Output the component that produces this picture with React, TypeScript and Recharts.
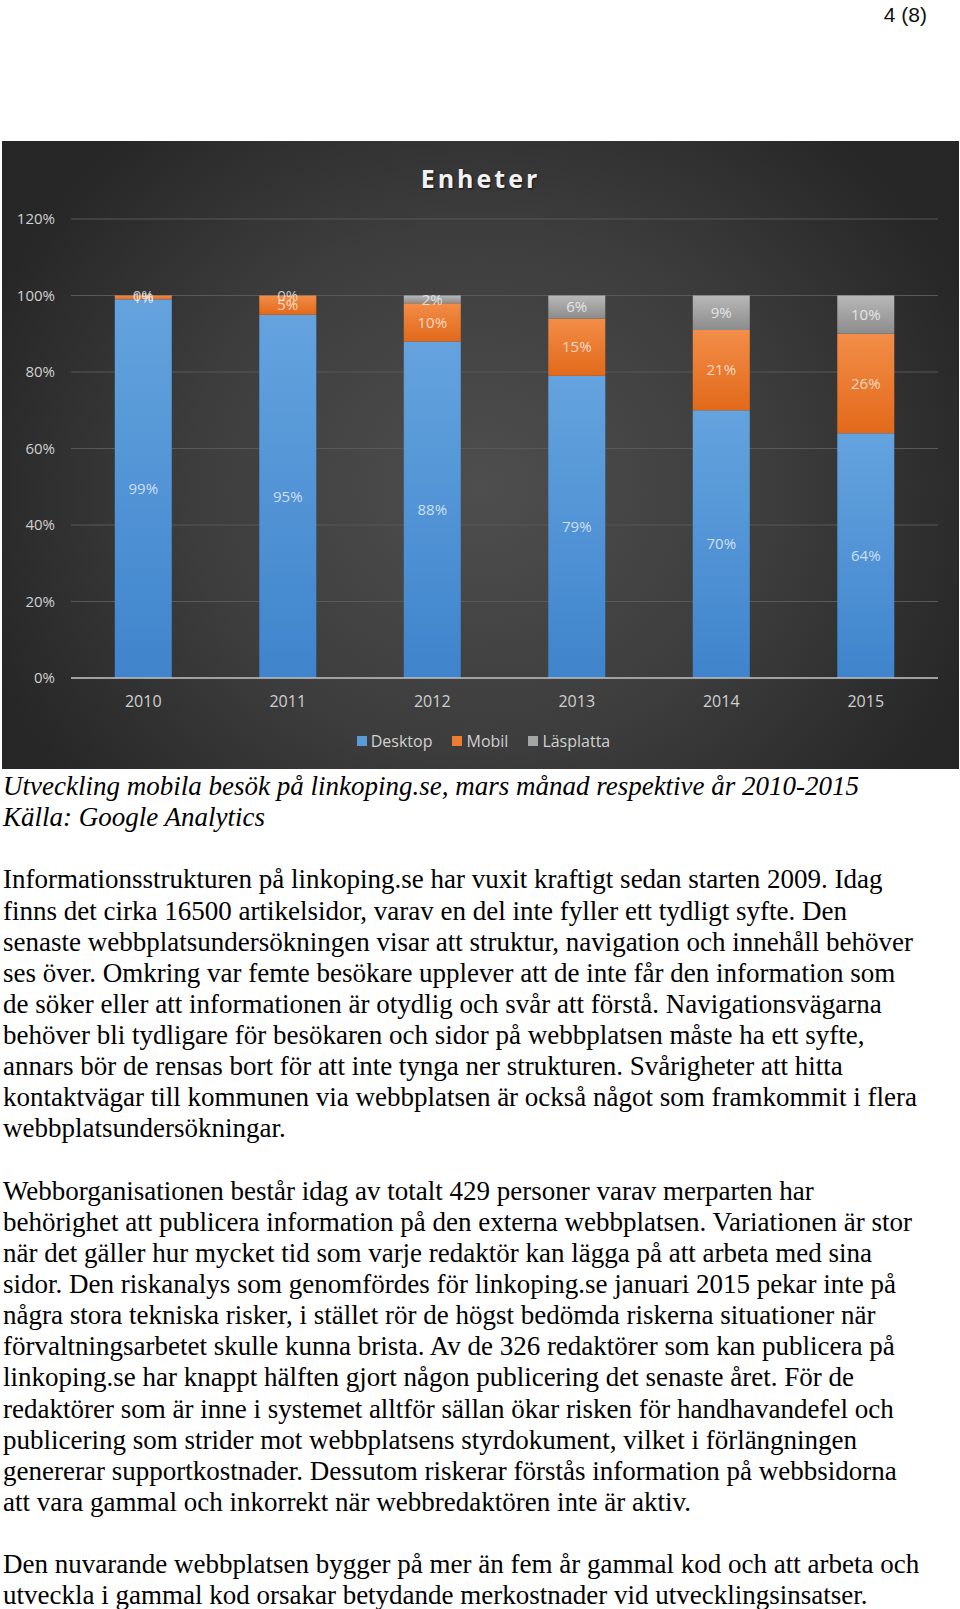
import { BarChart, Bar, XAxis, YAxis, CartesianGrid, Legend, LabelList } from 'recharts'

const years = ['2010', '2011', '2012', '2013', '2014', '2015']
const desktop = [99, 95, 88, 79, 70, 64]
const mobil = [1, 5, 10, 15, 21, 26]
const lasplatta = [0, 0, 2, 6, 9, 10]
const yTicks = [0, 20, 40, 60, 80, 100, 120]

const seriesInfo = [
  { key: 'desktop', name: 'Desktop', color: '#5b9bd5' },
  { key: 'mobil', name: 'Mobil', color: '#ed7d31' },
  { key: 'lasplatta', name: 'Läsplatta', color: '#a5a5a5' },
]

const captionLines = [
  'Utveckling mobila besök på linkoping.se, mars månad respektive år 2010-2015',
  'Källa: Google Analytics',
]

const bodyLines = [
  '',
  'Informationsstrukturen på linkoping.se har vuxit kraftigt sedan starten 2009. Idag',
  'finns det cirka 16500 artikelsidor, varav en del inte fyller ett tydligt syfte. Den',
  'senaste webbplatsundersökningen visar att struktur, navigation och innehåll behöver',
  'ses över. Omkring var femte besökare upplever att de inte får den information som',
  'de söker eller att informationen är otydlig och svår att förstå. Navigationsvägarna',
  'behöver bli tydligare för besökaren och sidor på webbplatsen måste ha ett syfte,',
  'annars bör de rensas bort för att inte tynga ner strukturen. Svårigheter att hitta',
  'kontaktvägar till kommunen via webbplatsen är också något som framkommit i flera',
  'webbplatsundersökningar.',
  '',
  'Webborganisationen består idag av totalt 429 personer varav merparten har',
  'behörighet att publicera information på den externa webbplatsen. Variationen är stor',
  'när det gäller hur mycket tid som varje redaktör kan lägga på att arbeta med sina',
  'sidor. Den riskanalys som genomfördes för linkoping.se januari 2015 pekar inte på',
  'några stora tekniska risker, i stället rör de högst bedömda riskerna situationer när',
  'förvaltningsarbetet skulle kunna brista. Av de 326 redaktörer som kan publicera på',
  'linkoping.se har knappt hälften gjort någon publicering det senaste året. För de',
  'redaktörer som är inne i systemet alltför sällan ökar risken för handhavandefel och',
  'publicering som strider mot webbplatsens styrdokument, vilket i förlängningen',
  'genererar supportkostnader. Dessutom riskerar förstås information på webbsidorna',
  'att vara gammal och inkorrekt när webbredaktören inte är aktiv.',
  '',
  'Den nuvarande webbplatsen bygger på mer än fem år gammal kod och att arbeta och',
  'utveckla i gammal kod orsakar betydande merkostnader vid utvecklingsinsatser.',
]

const data = years.map((year, i) => ({
  year,
  desktop: desktop[i],
  mobil: mobil[i],
  lasplatta: lasplatta[i],
}))

const chartFont = '"Open Sans", sans-serif'
const labelFill = '#ffffff'
const lineH = 31.13

function LegendContent() {
  return (
    <div style={{ display: 'flex', justifyContent: 'center', paddingLeft: 26, fontFamily: chartFont, fontSize: 16, lineHeight: '20px', color: '#d0d0d0' }}>
      {seriesInfo.map((s) => (
        <div key={s.key} style={{ display: 'flex', alignItems: 'center', marginRight: 20 }}>
          <span style={{ width: 10, height: 10, background: s.color, marginRight: 4, display: 'inline-block' }} />
          <span>{s.name}</span>
        </div>
      ))}
    </div>
  )
}

// zero-height Läsplatta segments get no label of their own, so draw it at the top of the Mobil segment
function ZeroLabel(props: any) {
  const { x, y, width, value } = props
  if (value !== 0) return null
  return (
    <text x={x + width / 2} y={y - 1} textAnchor="middle" dominantBaseline="central" fill={labelFill} fillOpacity={0.72} fontSize={15} fontFamily={chartFont}>
      {`${value}%`}
    </text>
  )
}

export default function App() {
  return (
    <div style={{ position: 'absolute', left: 0, top: 0, width: 960, height: 1609, background: '#fff' }}>
      <div style={{ position: 'absolute', right: 33, top: 4, fontFamily: '"Liberation Sans", Arial, sans-serif', fontSize: 21, lineHeight: '21px', color: '#111' }}>
        4 (8)
      </div>

      <div
        style={{
          position: 'absolute',
          left: 2,
          top: 141,
          width: 957,
          height: 628,
          background: 'radial-gradient(ellipse 55% 75% at 50% 55%, #4e4e4e 0%, #3d3d3d 55%, #272727 100%)',
        }}
      >
        <div
          style={{
            position: 'absolute',
            left: 0,
            top: 22,
            width: 957,
            textAlign: 'center',
            fontFamily: chartFont,
            fontWeight: 700,
            fontSize: 25,
            lineHeight: '30px',
            letterSpacing: 3,
            color: '#f2f2f2',
            textShadow: '1px 1px 2px #111',
          }}
        >
          Enheter
        </div>
        <BarChart width={957} height={628} data={data} margin={{ top: 78, right: 21, left: 0, bottom: 61 }} barCategoryGap="30.3%">
          <defs>
            <linearGradient id="gDesktop" x1="0" y1="0" x2="0" y2="1">
              <stop offset="0%" stopColor="#64a3de" />
              <stop offset="100%" stopColor="#3f84cc" />
            </linearGradient>
            <linearGradient id="gMobil" x1="0" y1="0" x2="0" y2="1">
              <stop offset="0%" stopColor="#f28d48" />
              <stop offset="100%" stopColor="#e2691a" />
            </linearGradient>
            <linearGradient id="gLasplatta" x1="0" y1="0" x2="0" y2="1">
              <stop offset="0%" stopColor="#b8b8b8" />
              <stop offset="100%" stopColor="#8c8c8c" />
            </linearGradient>
          </defs>
          <CartesianGrid vertical={false} stroke="#595959" />
          <XAxis
            dataKey="year"
            height={30}
            tickLine={false}
            axisLine={{ stroke: '#bfbfbf', strokeWidth: 1.5 }}
            tick={{ fill: '#d0d0d0', fontSize: 16, fontFamily: chartFont }}
            tickMargin={12}
          />
          <YAxis
            width={69}
            domain={[0, 120]}
            ticks={yTicks}
            tickFormatter={(v) => `${v}%`}
            axisLine={false}
            tickLine={false}
            tick={{ fill: '#d0d0d0', fontSize: 15, fontFamily: chartFont }}
            tickMargin={10}
          />
          <Legend verticalAlign="middle" align="center" wrapperStyle={{ top: 590, left: 0, width: 957 }} content={<LegendContent />} />
          <Bar dataKey="desktop" name="Desktop" stackId="a" fill="url(#gDesktop)" isAnimationActive={false}>
            <LabelList dataKey="desktop" position="center" formatter={(v) => `${v}%`} fill={labelFill} fillOpacity={0.72} fontSize={15} fontFamily={chartFont} />
          </Bar>
          <Bar dataKey="mobil" name="Mobil" stackId="a" fill="url(#gMobil)" isAnimationActive={false}>
            <LabelList dataKey="mobil" position="center" formatter={(v) => `${v}%`} fill={labelFill} fillOpacity={0.72} fontSize={15} fontFamily={chartFont} />
            <LabelList dataKey="lasplatta" content={<ZeroLabel />} />
          </Bar>
          <Bar dataKey="lasplatta" name="Läsplatta" stackId="a" fill="url(#gLasplatta)" isAnimationActive={false}>
            <LabelList dataKey="lasplatta" position="center" formatter={(v) => `${v}%`} fill={labelFill} fillOpacity={0.72} fontSize={15} fontFamily={chartFont} />
          </Bar>
        </BarChart>
      </div>

      <div style={{ position: 'absolute', left: 3, top: 771, fontFamily: '"Liberation Serif", "Times New Roman", serif', fontSize: 27, lineHeight: `${lineH}px`, color: '#000', whiteSpace: 'nowrap' }}>
        {captionLines.map((t, i) => (
          <div key={'c' + i} style={{ height: lineH, fontStyle: 'italic' }}>{t}</div>
        ))}
        {bodyLines.map((t, i) => (
          <div key={'b' + i} style={{ height: lineH }}>{t}</div>
        ))}
      </div>
    </div>
  )
}
